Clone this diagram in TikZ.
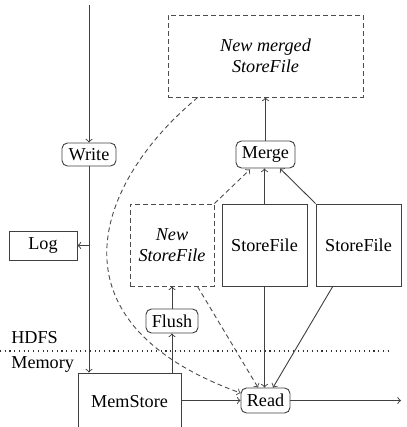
\documentclass[tikz,border=0pt]{standalone}
\usepackage{fontspec}
\setmainfont{Liberation Serif}
\usetikzlibrary{calc}
\begin{document}
\begin{tikzpicture}[x={(0.55pt,0)},y={(0,-0.55pt)},
  every node/.style={inner sep=0pt,font=\fontsize{10}{11.5}\selectfont,align=center},
  sz/.style 2 args={minimum width=#1*0.55pt,minimum height=#2*0.55pt},
  box/.style={draw=black!75,line width=0.5pt,rectangle},
  rbox/.style={draw=black!75,line width=0.5pt,rectangle,rounded corners=3pt},
  dbox/.style={draw=black!70,line width=0.5pt,rectangle,dash pattern=on 2.6pt off 1.8pt},
  conn/.style={draw=black!75,line width=0.5pt,->},
  dconn/.style={draw=black!70,line width=0.5pt,->,dash pattern=on 2.6pt off 1.8pt}]
\clip (0,0) rectangle (406,427);
\node[rbox,sz={54}{23}] (write) at (89,154.5) {Write};
\node[box,sz={68}{29}] (log) at (43,245.5) {Log};
\node[box,sz={103}{57}] (mem) at (129.5,401.5) {MemStore};
\node[rbox,sz={52}{24}] (flush) at (172,321) {Flush};
\node[dbox,sz={84}{82}] (nsf) at (172,245) {\itshape New\\\itshape StoreFile};
\node[box,sz={85}{82}] (sf1) at (264.5,245) {StoreFile};
\node[box,sz={85}{82}] (sf2) at (358.5,245) {StoreFile};
\node[rbox,sz={59}{27}] (merge) at (265.5,154.5) {Merge};
\node[dbox,sz={195}{82}] (nm) at (265.5,56) {\itshape New merged\\\itshape StoreFile};
\node[rbox,sz={49}{25}] (read) at (265.5,400.5) {Read};
\node[anchor=west] (hdfs) at (11,338) {HDFS};
\node[anchor=west] (memlbl) at (11,365) {Memory};
\coordinate (top) at (89,5);
\coordinate (out) at (401,400.5);
\coordinate (dl) at (0,351);
\coordinate (dr) at (390,351);
\draw[black!80,line width=0.6pt,dash pattern=on 0.6pt off 2pt] (dl) -- (dr);
\draw[conn] (top) -- (write.north);
\draw[conn] (write.south) -- (write.south |- mem.north);
\draw[conn] (write.south |- log.east) -- (log.east);
\draw[conn] (flush.south |- mem.north) -- (flush.south);
\draw[conn] (flush.north) -- (nsf.south);
\draw[conn] (mem.east |- read.west) -- (read.west);
\draw[conn] (read.east) -- (out);
\draw[conn] (sf1.south) -- (read.north -| sf1.south);
\draw[conn] ($(sf2.south west)!0.2!(sf2.south east)$) -- ($(read.north)+(7.5,0)$);
\draw[dconn] ($(nsf.south west)!0.8!(nsf.south east)$) -- ($(read.north)+(-7.5,0)$);
\draw[conn] (sf1.north) -- (merge.south -| sf1.north);
\draw[conn] (sf2.north west) -- ($(merge.south)+(14.5,0)$);
\draw[dconn] (nsf.north east) -- ($(merge.south)+(-15.5,1)$);
\draw[conn] (merge.north) -- (nm.south);
\draw[dconn] ($(nm.south west)!0.154!(nm.south east)$) .. controls (96,182) and (43,321.5) .. ($(read.west)+(0,-7.5)$);
\end{tikzpicture}
\end{document}
